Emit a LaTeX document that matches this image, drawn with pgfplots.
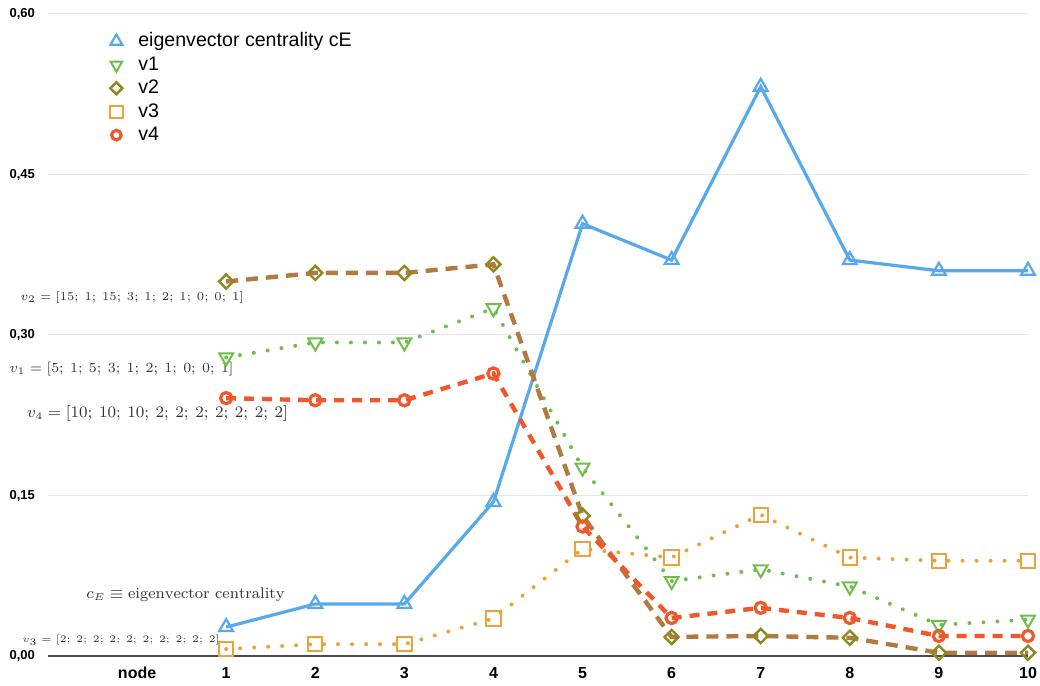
\documentclass[border=0pt]{standalone}
\usepackage{pgfplots}
\pgfplotsset{compat=1.18}
\usepackage{fontspec}
\newfontfamily\arial{Liberation Sans}

\definecolor{cEblue}{HTML}{58A8EE}
\definecolor{vgreen}{HTML}{6CC04A}
\definecolor{volive}{HTML}{8C8A1E}
\definecolor{vbrown}{HTML}{B27A40}
\definecolor{vorange}{HTML}{EBA23A}
\definecolor{vred}{HTML}{F0572A}
\definecolor{annot}{HTML}{333333}

\begin{document}
\begin{tikzpicture}
\begin{axis}[
    width=490pt, height=321pt, scale only axis,
    xmin=-1, xmax=10, ymin=0, ymax=0.6,
    clip=false,
    axis x line*=bottom, axis y line*=left,
    y axis line style={draw=none},
    x axis line style={draw=black!70, line width=0.8pt},
    major tick length=0pt,
    xtick={0,1,2,3,4,5,6,7,8,9,10},
    xticklabels={node,1,2,3,4,5,6,7,8,9,10},
    ytick={0,0.15,0.3,0.45,0.6},
    ymajorgrids,
    grid style={draw=black!10, line width=0.5pt},
    /pgf/number format/.cd, fixed, fixed zerofill, precision=2, use comma, assume math mode=true,
    /pgfplots/.cd,
    xticklabel style={font=\arial\bfseries\fontsize{8}{9}\selectfont, yshift=-2pt},
    yticklabel style={font=\arial\bfseries\fontsize{6.5}{8}\selectfont, xshift=-3pt},
    legend style={at={(0.057,0.984)}, anchor=north west, draw=none, fill=none,
        font=\arial\fontsize{9.8}{11}\selectfont, row sep=-0.6pt},
    legend cell align=left,
    legend image code/.code={
        \draw[#1,only marks,scale=0.85] plot coordinates {(0.2cm,0cm)};
        \path (0.2cm+7pt,0cm);},
]
\addplot[cEblue, line width=1.6pt, mark=triangle, mark size=4pt,
    mark options={fill=white, line width=1.1pt}]
    coordinates {(1,0.027) (2,0.0486) (3,0.0486) (4,0.144) (5,0.404)
                 (6,0.370) (7,0.532) (8,0.370) (9,0.360) (10,0.360)};
\addlegendentry{eigenvector centrality cE}
\addplot[vgreen, line width=2pt, line cap=round, dash pattern=on 0pt off 7pt,
    mark=triangle, mark size=4pt,
    mark options={solid, rotate=180, fill=white, line width=1pt}]
    coordinates {(1,0.279) (2,0.293) (3,0.293) (4,0.325) (5,0.176)
                 (6,0.070) (7,0.081) (8,0.065) (9,0.029) (10,0.034)};
\addlegendentry{v1}
\addplot[vbrown, line width=2.2pt, dash pattern=on 6pt off 4pt,
    mark=square, mark size=2.5pt,
    mark options={solid, rotate=45, draw=volive, fill=white, line width=1.2pt}]
    coordinates {(1,0.350) (2,0.358) (3,0.358) (4,0.366) (5,0.131)
                 (6,0.0178) (7,0.0187) (8,0.017) (9,0.003) (10,0.003)};
\addlegendentry{v2}
\addplot[vorange, line width=2pt, line cap=round, dash pattern=on 0pt off 7pt,
    mark=square, mark size=3.6pt,
    mark options={solid, fill=white, line width=1pt}]
    coordinates {(1,0.0065) (2,0.011) (3,0.011) (4,0.035) (5,0.100)
                 (6,0.092) (7,0.132) (8,0.092) (9,0.089) (10,0.089)};
\addlegendentry{v3}
\addplot[vred, line width=2.2pt, dash pattern=on 5pt off 4pt,
    mark=o, mark size=2.8pt,
    mark options={solid, fill=white, line width=1.6pt}]
    coordinates {(1,0.241) (2,0.239) (3,0.239) (4,0.264) (5,0.121)
                 (6,0.0355) (7,0.045) (8,0.0355) (9,0.0187) (10,0.0187)};
\addlegendentry{v4}

% annotations left of the curves
\node[text=annot, inner sep=0pt, font=\fontsize{6.3}{8}\selectfont] at (axis cs:-0.056,0.335)
    {$v_2=[15;\:1;\:15;\:3;\:1;\:2;\:1;\:0;\:0;\:1]$};
\node[text=annot, inner sep=0pt, font=\fontsize{7.05}{8}\selectfont] at (axis cs:-0.174,0.268)
    {$v_1=[5;\:1;\:5;\:3;\:1;\:2;\:1;\:0;\:0;\:1]$};
\node[text=annot, inner sep=0pt, font=\fontsize{7.7}{9}\selectfont] at (axis cs:0.23,0.227)
    {$v_4=[10;\:10;\:10;\:2;\:2;\:2;\:2;\:2;\:2;\:2]$};
\node[text=annot, inner sep=0pt, font=\fontsize{7.8}{9}\selectfont] at (axis cs:0.544,0.057)
    {$c_E\equiv\mathrm{eigenvector\ centrality}$};
\node[text=annot, inner sep=0pt, font=\fontsize{5.5}{7}\selectfont] at (axis cs:-0.18,0.015)
    {$v_3=[2;\:2;\:2;\:2;\:2;\:2;\:2;\:2;\:2;\:2]$};

\coordinate (SW) at (rel axis cs:0,0);
\coordinate (NE) at (rel axis cs:1,1);
\end{axis}
\pgfresetboundingbox
\path[use as bounding box] ([shift={(-24pt,-15pt)}]SW) rectangle ([shift={(6pt,7pt)}]NE);
\end{tikzpicture}
\end{document}
